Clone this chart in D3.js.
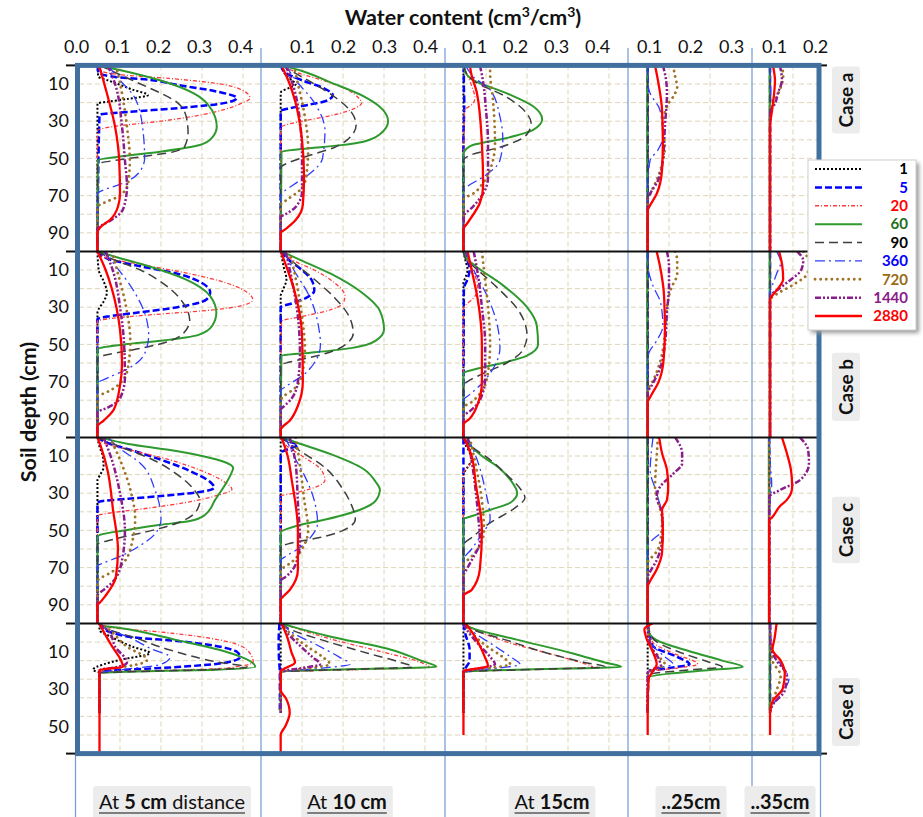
<!DOCTYPE html>
<html>
<head>
<meta charset="utf-8">
<script src="https://cdn.jsdelivr.net/npm/d3@7"></script>
<style>
  html, body { margin: 0; padding: 0; background: #fff; }
  svg { display: block; font-family: Lato, "Open Sans", sans-serif; }
</style>
</head>
<body>
<svg id="chart" width="923" height="817"></svg>
<script>
// ---------------- data ----------------
// Elapsed time of each profile (min)
const seriesNames = ["1", "5", "20", "60", "90", "360", "720", "1440", "2880"];
const caseNames = ["Case a", "Case b", "Case c", "Case d"];
// Horizontal distance from the emitter, one panel column each
const distanceLabels = [
  [["At ", false], ["5 cm", true], [" distance", false]],
  [["At ", false], ["10 cm", true]],
  [["At ", false], ["15cm", true]],
  [["..25cm", true]],
  [["..35cm", true]]
];
const depthExtent = [100, 100, 100, 70];          // soil depth shown in each row (cm)
const depthTicks = [[10, 30, 50, 70, 90], [10, 30, 50, 70, 90], [10, 30, 50, 70, 90], [10, 30, 50]];
const thetaTicks = [[0, 0.1, 0.2, 0.3, 0.4], [0.1, 0.2, 0.3, 0.4], [0.1, 0.2, 0.3, 0.4], [0.1, 0.2, 0.3], [0.1, 0.2]];

// Water-content profiles: each profile is a list of [depth (cm), water content (cm3/cm3)],
// one profile per elapsed time, in the order of seriesNames.
const caseA_5cm = [
  [[0,0.045],[6,0.047],[8,0.07],[10,0.095],[13,0.13],[16,0.168],[18,0.12],[19.5,0.07],[20.5,0.045],[100,0.045]],
  [[0,0.045],[4,0.048],[6.5,0.10],[7.5,0.16],[10.5,0.24],[14,0.335],[17.5,0.385],[20,0.36],[23,0.24],[25,0.12],[26.5,0.05],[100,0.045]],
  [[0,0.045],[3,0.055],[5,0.10],[7,0.22],[9.5,0.33],[13,0.395],[17.5,0.417],[21,0.39],[26.5,0.30],[30,0.20],[33,0.08],[35,0.045],[100,0.045]],
  [[0,0.046],[3,0.11],[8,0.197],[15,0.28],[24,0.324],[33,0.336],[39,0.324],[42.8,0.295],[46.4,0.198],[49,0.10],[51,0.046],[100,0.045]],
  [[0,0.05],[5,0.10],[10,0.15],[15,0.20],[20,0.24],[28,0.262],[36,0.266],[43.5,0.258],[46.5,0.23],[49,0.156],[51,0.09],[53,0.045],[100,0.045]],
  [[0,0.07],[4,0.085],[8,0.10],[17,0.135],[33,0.155],[50,0.16],[58,0.145],[64,0.10],[67,0.06],[69,0.045],[100,0.045]],
  [[0,0.09],[15,0.105],[33,0.117],[51,0.124],[63,0.12],[70,0.10],[74,0.06],[76,0.045],[100,0.045]],
  [[0,0.07],[10,0.088],[33,0.105],[51,0.112],[65,0.117],[77,0.108],[83,0.08],[86,0.055],[87.5,0.045],[100,0.045]],
  [[0,0.049],[15,0.068],[33,0.088],[51,0.098],[69,0.10],[76,0.095],[83,0.076],[87,0.052],[90,0.045],[100,0.045]]
];
const caseA_10cm = [
  [[0,0.05],[5,0.06],[8,0.075],[10,0.085],[12,0.07],[14,0.05],[15,0.048],[100,0.048]],
  [[0,0.048],[4,0.06],[8,0.10],[12,0.15],[16,0.175],[19,0.16],[21,0.12],[23,0.07],[24.5,0.048],[100,0.048]],
  [[0,0.05],[4,0.09],[8,0.15],[13,0.21],[18,0.24],[20,0.246],[23,0.23],[27,0.17],[30,0.10],[32,0.06],[33.5,0.048],[100,0.048]],
  [[0,0.05],[3,0.10],[9,0.168],[17,0.254],[24,0.298],[30,0.31],[37,0.29],[41,0.25],[43,0.19],[45,0.10],[46.5,0.05],[100,0.048]],
  [[0,0.05],[5,0.09],[10,0.13],[17,0.18],[25,0.22],[32,0.232],[38,0.22],[44,0.18],[49,0.11],[53,0.06],[55,0.048],[100,0.048]],
  [[0,0.06],[8,0.085],[20,0.13],[35,0.156],[50,0.15],[58,0.12],[64,0.08],[68,0.055],[70,0.048],[100,0.048]],
  [[0,0.08],[10,0.09],[25,0.105],[45,0.115],[60,0.11],[67,0.095],[72,0.065],[75,0.048],[100,0.048]],
  [[0,0.06],[12,0.08],[30,0.095],[50,0.10],[68,0.10],[76,0.085],[80,0.06],[81.5,0.048],[100,0.048]],
  [[0,0.05],[10,0.07],[19,0.083],[40,0.10],[60,0.105],[75,0.102],[83,0.085],[88,0.06],[90,0.048],[100,0.048]]
];
const caseA_15cm = [
  [[0,0.045],[100,0.045]],
  [[0,0.046],[10,0.046],[20,0.047],[30,0.046],[40,0.045],[100,0.045]],
  [[0,0.045],[3,0.05],[6,0.056],[13,0.068],[17,0.073],[20,0.07],[22,0.06],[24,0.047],[100,0.045]],
  [[0,0.046],[3.4,0.049],[7.8,0.068],[15,0.151],[22,0.215],[29,0.237],[34.7,0.215],[39,0.151],[42.8,0.068],[46,0.048],[48,0.045],[100,0.045]],
  [[0,0.046],[4,0.052],[8,0.068],[17,0.15],[26,0.20],[31,0.21],[37,0.20],[44,0.134],[48,0.065],[51,0.045],[100,0.045]],
  [[0,0.05],[3,0.058],[6,0.068],[13,0.11],[27.5,0.134],[40,0.141],[51,0.134],[60,0.093],[65,0.055],[67,0.045],[100,0.045]],
  [[0,0.11],[4,0.11],[18.6,0.117],[42,0.122],[56,0.11],[64,0.09],[69,0.068],[71,0.05],[72,0.045],[100,0.045]],
  [[0,0.085],[5,0.09],[24,0.10],[42,0.105],[60,0.105],[69,0.093],[76,0.068],[81,0.046],[100,0.045]],
  [[0,0.061],[3.4,0.063],[15,0.078],[42,0.09],[65,0.093],[74,0.085],[85,0.054],[88,0.045],[100,0.045]]
];
const caseA_25cm = [
  [[0,0.048],[100,0.048]],
  [[0,0.048],[100,0.048]],
  [[0,0.048],[100,0.048]],
  [[0,0.047],[100,0.047]],
  [[0,0.048],[100,0.048]],
  [[0,0.048],[12,0.05],[15,0.054],[24,0.078],[38.5,0.085],[45.5,0.073],[51,0.054],[58,0.05],[65,0.048],[100,0.048]],
  [[0,0.11],[6,0.115],[11.5,0.12],[15,0.115],[22,0.095],[33,0.085],[44,0.09],[51,0.085],[60,0.073],[69,0.054],[72,0.048],[100,0.048]],
  [[0,0.085],[8,0.093],[15,0.095],[33,0.09],[51,0.085],[62,0.073],[69,0.054],[72,0.048],[100,0.048]],
  [[0,0.066],[8,0.073],[24,0.083],[42,0.085],[56,0.083],[69,0.07],[76,0.052],[78,0.048],[100,0.048]]
];
const caseA_35cm = [
  [[0,0.044],[100,0.044]],
  [[0,0.044],[100,0.044]],
  [[0,0.044],[100,0.044]],
  [[0,0.043],[100,0.043]],
  [[0,0.044],[100,0.044]],
  [[0,0.044],[15,0.046],[20,0.05],[25,0.046],[30,0.044],[100,0.044]],
  [[0,0.073],[6,0.076],[13,0.068],[18.6,0.056],[22,0.047],[24,0.044],[100,0.044]],
  [[0,0.068],[8,0.073],[15,0.063],[20.6,0.056],[24,0.046],[26,0.044],[100,0.044]],
  [[0,0.051],[8,0.056],[15,0.054],[24,0.049],[33,0.044],[100,0.044]]
];

const caseB_5cm = [
  [[0,0.045],[10,0.048],[16,0.06],[22,0.068],[27,0.06],[31,0.048],[33,0.045],[100,0.045]],
  [[0,0.045],[4,0.07],[8,0.15],[12,0.24],[17,0.30],[22,0.32],[26,0.31],[30,0.24],[33,0.14],[35,0.07],[36.5,0.045],[100,0.045]],
  [[0,0.045],[3,0.06],[7,0.15],[12,0.27],[17,0.36],[22,0.41],[26,0.424],[29,0.40],[32,0.30],[34,0.18],[36,0.08],[37.5,0.045],[100,0.045]],
  [[0,0.045],[3,0.09],[8,0.17],[15,0.26],[24,0.32],[33,0.335],[40,0.325],[45,0.29],[48,0.20],[50,0.11],[52,0.05],[53,0.045],[100,0.045]],
  [[0,0.045],[4,0.08],[10,0.15],[18,0.21],[28,0.255],[37,0.27],[44,0.255],[49,0.21],[53,0.13],[56,0.06],[57.5,0.045],[100,0.045]],
  [[0,0.06],[8,0.09],[20,0.13],[33,0.16],[45,0.17],[55,0.16],[63,0.12],[68,0.07],[71,0.045],[100,0.045]],
  [[0,0.08],[12,0.095],[30,0.115],[48,0.125],[62,0.12],[71,0.10],[76,0.065],[78,0.045],[100,0.045]],
  [[0,0.065],[12,0.085],[30,0.10],[50,0.11],[68,0.112],[79,0.10],[84,0.07],[86.5,0.045],[100,0.045]],
  [[0,0.045],[10,0.065],[20,0.08],[42,0.10],[60,0.105],[72,0.10],[85,0.085],[91,0.06],[94,0.045],[100,0.045]]
];
const caseB_10cm = [
  [[0,0.048],[8,0.055],[15,0.062],[20,0.055],[24,0.048],[100,0.048]],
  [[0,0.048],[5,0.07],[10,0.10],[16,0.125],[21,0.13],[25,0.11],[28,0.075],[30,0.048],[100,0.048]],
  [[0,0.05],[5,0.08],[10,0.13],[17,0.18],[24,0.205],[28,0.20],[32,0.16],[35,0.10],[37.5,0.05],[100,0.048]],
  [[0,0.05],[4,0.09],[12,0.17],[22,0.245],[32,0.29],[42,0.30],[48,0.28],[52,0.22],[54.5,0.12],[56,0.05],[100,0.048]],
  [[0,0.05],[6,0.08],[15,0.13],[25,0.18],[35,0.215],[44,0.225],[51,0.20],[56,0.14],[59.5,0.07],[61,0.048],[100,0.048]],
  [[0,0.055],[10,0.08],[25,0.12],[40,0.14],[50,0.145],[60,0.13],[67,0.10],[72,0.065],[75,0.048],[100,0.048]],
  [[0,0.07],[15,0.085],[35,0.10],[52,0.107],[66,0.10],[74,0.08],[78,0.055],[80,0.048],[100,0.048]],
  [[0,0.06],[15,0.075],[35,0.09],[55,0.095],[70,0.09],[79,0.075],[83.5,0.055],[85,0.048],[100,0.048]],
  [[0,0.048],[10,0.065],[20,0.08],[45,0.10],[70,0.102],[83,0.09],[91,0.07],[95,0.05],[96,0.048],[100,0.048]]
];
const caseB_15cm = [
  [[0,0.045],[5,0.05],[10,0.055],[14,0.05],[17,0.045],[100,0.045]],
  [[0,0.045],[5,0.055],[10,0.06],[15,0.055],[20,0.046],[100,0.045]],
  [[0,0.045],[6,0.058],[14,0.075],[20,0.08],[25,0.07],[29,0.05],[31,0.045],[100,0.045]],
  [[0,0.045],[3,0.05],[8,0.075],[18,0.14],[30,0.20],[40,0.224],[50,0.227],[56,0.20],[60,0.14],[63,0.08],[65.5,0.045],[100,0.045]],
  [[0,0.045],[4,0.05],[10,0.08],[20,0.13],[32,0.18],[45,0.20],[53,0.19],[60,0.15],[66,0.09],[70,0.055],[72,0.045],[100,0.045]],
  [[0,0.05],[10,0.07],[25,0.105],[40,0.128],[52,0.134],[62,0.12],[71,0.09],[77,0.06],[80,0.045],[100,0.045]],
  [[0,0.09],[10,0.095],[30,0.105],[50,0.11],[65,0.105],[75,0.09],[81,0.065],[84,0.045],[100,0.045]],
  [[0,0.07],[12,0.08],[30,0.09],[50,0.098],[68,0.098],[80,0.085],[86,0.06],[88.5,0.045],[100,0.045]],
  [[0,0.055],[10,0.065],[26,0.08],[50,0.09],[70,0.09],[82,0.08],[90,0.06],[93,0.045],[100,0.045]]
];
const caseB_25cm = [
  [[0,0.048],[100,0.048]],
  [[0,0.048],[100,0.048]],
  [[0,0.048],[100,0.048]],
  [[0,0.047],[100,0.047]],
  [[0,0.048],[100,0.048]],
  [[0,0.048],[10,0.05],[18,0.06],[28,0.08],[40,0.085],[48,0.07],[54,0.052],[58,0.048],[100,0.048]],
  [[0,0.115],[5,0.12],[12,0.12],[20,0.105],[30,0.095],[45,0.09],[58,0.08],[70,0.06],[75,0.048],[100,0.048]],
  [[0,0.095],[8,0.10],[18,0.10],[33,0.095],[50,0.09],[63,0.078],[72,0.058],[76,0.048],[100,0.048]],
  [[0,0.07],[8,0.078],[24,0.088],[42,0.09],[58,0.087],[70,0.075],[78,0.055],[81,0.048],[100,0.048]]
];
const caseB_35cm = [
  [[0,0.044],[100,0.044]],
  [[0,0.044],[100,0.044]],
  [[0,0.044],[100,0.044]],
  [[0,0.043],[100,0.043]],
  [[0,0.044],[100,0.044]],
  [[0,0.06],[6,0.07],[12,0.06],[18,0.05],[22,0.044],[100,0.044]],
  [[0,0.125],[6,0.14],[12,0.135],[18,0.10],[23,0.06],[26,0.044],[100,0.044]],
  [[0,0.11],[5,0.125],[10,0.12],[16,0.09],[21,0.06],[24,0.044],[100,0.044]],
  [[0,0.066],[8,0.074],[15,0.076],[22,0.056],[26,0.044],[100,0.044]]
];

const caseC_5cm = [
  [[0,0.045],[5,0.05],[10,0.058],[16,0.06],[20,0.052],[23,0.045],[100,0.045]],
  [[0,0.045],[3,0.07],[7,0.13],[12,0.20],[18,0.27],[24,0.32],[27,0.33],[29.5,0.29],[31.5,0.20],[33,0.12],[34.5,0.05],[35.5,0.045],[100,0.045]],
  [[0,0.045],[3,0.06],[7,0.13],[12,0.22],[18,0.30],[24,0.355],[28,0.373],[31,0.34],[35,0.26],[38,0.17],[40.5,0.08],[42,0.045],[100,0.045]],
  [[0,0.05],[3.5,0.12],[6.8,0.222],[10,0.30],[13.2,0.355],[16.5,0.376],[20,0.37],[25.6,0.356],[33.6,0.332],[41.7,0.307],[45,0.27],[47,0.198],[50,0.11],[52.5,0.05],[53.5,0.045],[100,0.045]],
  [[0,0.045],[5,0.10],[12,0.18],[20,0.24],[28,0.28],[34,0.295],[40,0.285],[46,0.24],[51,0.16],[55,0.08],[57.5,0.045],[100,0.045]],
  [[0,0.07],[6,0.10],[14,0.15],[28,0.185],[44,0.20],[52,0.185],[58,0.15],[64,0.10],[67.5,0.06],[69,0.045],[100,0.045]],
  [[0,0.075],[12,0.10],[28,0.125],[44,0.137],[56,0.13],[67,0.11],[73,0.075],[76,0.05],[77,0.045],[100,0.045]],
  [[0,0.06],[12,0.08],[30,0.10],[50,0.112],[66,0.105],[77,0.085],[82,0.06],[85,0.045],[100,0.045]],
  [[0,0.045],[6,0.055],[18,0.07],[39,0.083],[60,0.095],[75,0.09],[85,0.065],[89,0.05],[90,0.045],[100,0.045]]
];
const caseC_10cm = [
  [[0,0.048],[100,0.048]],
  [[0,0.048],[2,0.065],[4,0.09],[6,0.07],[8,0.05],[10,0.048],[100,0.048]],
  [[0,0.048],[4,0.06],[10,0.10],[17,0.145],[23,0.156],[27,0.13],[30,0.08],[31.5,0.048],[100,0.048]],
  [[0,0.05],[3,0.09],[9,0.17],[17,0.25],[24,0.28],[28,0.29],[34,0.28],[39,0.24],[44,0.16],[48,0.08],[51,0.048],[100,0.048]],
  [[0,0.05],[5,0.08],[17,0.16],[28,0.20],[36,0.22],[44,0.23],[50,0.20],[54,0.14],[57,0.07],[59,0.048],[100,0.048]],
  [[0,0.06],[10,0.08],[20,0.105],[34,0.13],[46,0.138],[54,0.12],[60,0.09],[64,0.06],[66,0.048],[100,0.048]],
  [[0,0.085],[15,0.095],[33,0.105],[50,0.115],[60,0.10],[67,0.075],[70,0.055],[71,0.048],[100,0.048]],
  [[0,0.07],[15,0.085],[35,0.09],[55,0.095],[68,0.085],[75,0.06],[77,0.048],[100,0.048]],
  [[0,0.05],[10,0.065],[23,0.075],[50,0.09],[71,0.09],[82,0.07],[86,0.052],[87,0.048],[100,0.048]]
];
const caseC_15cm = [
  [[0,0.045],[4,0.05],[8,0.06],[12,0.065],[16,0.055],[20,0.045],[100,0.045]],
  [[0,0.045],[100,0.045]],
  [[0,0.045],[5,0.055],[10,0.065],[15,0.06],[19,0.045],[100,0.045]],
  [[0,0.045],[4,0.06],[10,0.09],[16,0.13],[23,0.16],[30,0.176],[35,0.16],[39,0.11],[42,0.07],[44,0.045],[100,0.045]],
  [[0,0.045],[4,0.06],[12,0.11],[20,0.15],[28,0.185],[32.5,0.195],[38,0.17],[46,0.11],[53,0.07],[58,0.045],[100,0.045]],
  [[0,0.055],[10,0.075],[28,0.098],[44,0.11],[52,0.09],[60,0.065],[66,0.045],[100,0.045]],
  [[0,0.06],[15,0.075],[34,0.09],[50,0.095],[60,0.08],[66,0.055],[68,0.045],[100,0.045]],
  [[0,0.055],[20,0.07],[40,0.08],[56,0.085],[66,0.065],[72,0.05],[74,0.045],[100,0.045]],
  [[0,0.045],[10,0.065],[25,0.075],[50,0.09],[71,0.085],[82,0.065],[85,0.045],[100,0.045]]
];
const caseC_25cm = [
  [[0,0.048],[100,0.048]],
  [[0,0.048],[100,0.048]],
  [[0,0.048],[100,0.048]],
  [[0,0.047],[100,0.047]],
  [[0,0.048],[100,0.048]],
  [[0,0.061],[10,0.056],[17.5,0.054],[30,0.07],[44.5,0.085],[50,0.083],[55,0.06],[57,0.05],[60,0.048],[100,0.048]],
  [[0,0.073],[10,0.07],[26.6,0.066],[44.5,0.083],[57,0.078],[64,0.06],[66,0.05],[68,0.048],[100,0.048]],
  [[0,0.115],[8.5,0.132],[14,0.132],[19.6,0.11],[26.6,0.078],[32,0.07],[40.5,0.083],[51,0.085],[66,0.07],[73,0.052],[75,0.048],[100,0.048]],
  [[0,0.076],[8.5,0.083],[17.5,0.095],[26.6,0.098],[33.6,0.095],[39,0.083],[50,0.085],[62,0.083],[71,0.07],[78,0.052],[80,0.048],[100,0.048]]
];
const caseC_35cm = [
  [[0,0.042],[100,0.042]],
  [[0,0.042],[100,0.042]],
  [[0,0.042],[100,0.042]],
  [[0,0.041],[100,0.041]],
  [[0,0.042],[100,0.042]],
  [[0,0.042],[15,0.045],[25,0.048],[35,0.044],[45,0.042],[100,0.042]],
  [[0,0.042],[100,0.042]],
  [[0,0.117],[6.8,0.137],[14,0.139],[23,0.117],[28.3,0.068],[32,0.042],[100,0.042]],
  [[0,0.073],[8.5,0.085],[17.5,0.095],[26.6,0.098],[33.6,0.085],[37,0.068],[43,0.049],[44.5,0.042],[100,0.042]]
];

const caseD_5cm = [
  [[0,0.05],[3.6,0.05],[7,0.076],[12.5,0.13],[16,0.173],[19.6,0.10],[22,0.06],[25,0.034],[26.6,0.05],[48,0.05]],
  [[0,0.05],[2,0.055],[7,0.117],[10,0.263],[15.3,0.385],[18,0.393],[21,0.36],[24,0.198],[25,0.11],[25.8,0.05],[48,0.05]],
  [[0,0.05],[2,0.07],[4.6,0.198],[8,0.32],[14.3,0.41],[20.7,0.425],[24,0.36],[25.5,0.156],[26,0.05],[48,0.05]],
  [[0,0.05],[1,0.052],[2.5,0.10],[9,0.239],[14.3,0.344],[23.4,0.43],[25,0.32],[26,0.117],[26.6,0.05],[48,0.05]],
  [[0,0.05],[2,0.06],[8,0.14],[14.3,0.222],[21,0.344],[23.4,0.41],[25,0.30],[26,0.12],[26.6,0.05],[48,0.05]],
  [[0,0.05],[2,0.06],[7,0.117],[14,0.18],[18,0.222],[22,0.20],[25,0.10],[26.5,0.05],[48,0.05]],
  [[0,0.05],[2,0.065],[12.5,0.117],[19.6,0.166],[23,0.12],[24.5,0.07],[26,0.05],[48,0.05]],
  [[0,0.05],[2,0.06],[5,0.075],[12.5,0.088],[21,0.117],[24,0.08],[25,0.05],[48,0.05]],
  [[0,0.05],[1,0.052],[10.7,0.076],[23.4,0.107],[25,0.05],[70,0.05]]
];
const caseD_10cm = [
  [[0,0.048],[48,0.048]],
  [[0,0.045],[10,0.043],[20,0.044],[26,0.046],[48,0.046]],
  [[0,0.05],[3,0.09],[9,0.18],[15,0.29],[21,0.39],[23.4,0.41],[24.5,0.30],[25.5,0.12],[26,0.048],[48,0.048]],
  [[0,0.05],[2,0.08],[7,0.168],[14,0.315],[20,0.39],[23.4,0.428],[24.3,0.30],[25.2,0.12],[25.8,0.048],[48,0.048]],
  [[0,0.05],[3,0.07],[9,0.15],[16,0.26],[21,0.34],[23.4,0.37],[24.5,0.25],[25.5,0.10],[26,0.048],[48,0.048]],
  [[0,0.05],[4,0.07],[12,0.14],[18,0.19],[22,0.217],[24,0.15],[25.5,0.07],[26.3,0.048],[48,0.048]],
  [[0,0.05],[4,0.065],[12,0.11],[18,0.15],[22,0.168],[24,0.12],[25.5,0.06],[26.3,0.048],[48,0.048]],
  [[0,0.05],[4,0.06],[12,0.095],[18,0.125],[22,0.144],[24,0.10],[25.5,0.055],[26.3,0.048],[48,0.048]],
  [[0,0.05],[8,0.065],[16,0.075],[21,0.083],[24,0.06],[25.5,0.048],[36,0.048],[40,0.06],[48,0.07],[55,0.06],[60,0.048],[70,0.048]]
];
const caseD_15cm = [
  [[0,0.045],[48,0.045]],
  [[0,0.045],[6,0.05],[14,0.06],[20,0.06],[24,0.05],[26,0.045],[48,0.045]],
  [[0,0.045],[4,0.08],[10,0.15],[16,0.25],[21,0.33],[23.4,0.36],[24.5,0.25],[25.5,0.10],[26,0.045],[48,0.045]],
  [[0,0.045],[2,0.06],[9,0.18],[16,0.31],[21,0.39],[23.4,0.43],[24.3,0.30],[25.2,0.12],[26,0.045],[48,0.045]],
  [[0,0.045],[3,0.065],[9,0.15],[16,0.25],[21,0.34],[23.4,0.39],[24.5,0.26],[25.5,0.10],[26,0.045],[48,0.045]],
  [[0,0.045],[4,0.065],[12,0.12],[18,0.16],[22,0.183],[24,0.13],[25.5,0.06],[26.3,0.045],[48,0.045]],
  [[0,0.045],[4,0.06],[12,0.10],[18,0.14],[22,0.159],[24,0.11],[25.5,0.055],[26.3,0.045],[48,0.045]],
  [[0,0.045],[4,0.055],[12,0.085],[18,0.11],[22,0.122],[24,0.09],[25.5,0.05],[26.3,0.045],[48,0.045]],
  [[0,0.05],[6,0.07],[12,0.085],[18,0.097],[23,0.105],[24.5,0.07],[25.5,0.045],[60,0.045]]
];
const caseD_25cm = [
  [[0,0.048],[48,0.048]],
  [[0,0.048],[12,0.06],[18,0.12],[22,0.15],[24,0.10],[26,0.05],[48,0.048]],
  [[0,0.048],[10,0.06],[16,0.11],[22,0.17],[24,0.12],[26,0.05],[48,0.048]],
  [[0,0.05],[5,0.052],[9,0.07],[15,0.15],[20,0.23],[23.4,0.28],[25,0.20],[27,0.10],[29,0.05],[48,0.048]],
  [[0,0.048],[8,0.06],[15,0.12],[21,0.20],[23.4,0.23],[25,0.15],[27,0.06],[28,0.048],[48,0.048]],
  [[0,0.048],[10,0.055],[18,0.09],[22,0.11],[24,0.07],[26,0.048],[48,0.048]],
  [[0,0.048],[12,0.055],[19,0.08],[22,0.09],[25,0.06],[26,0.048],[48,0.048]],
  [[0,0.048],[12,0.055],[19,0.075],[23,0.08],[25,0.055],[27,0.048],[48,0.048]],
  [[0,0.06],[3,0.04],[8,0.045],[15,0.06],[22,0.07],[26,0.06],[30,0.05],[45,0.048],[60,0.048]]
];
const caseD_35cm = [
  [[0,0.044],[48,0.044]],
  [[0,0.044],[48,0.044]],
  [[0,0.044],[48,0.044]],
  [[0,0.043],[48,0.043]],
  [[0,0.044],[48,0.044]],
  [[0,0.044],[15,0.05],[22,0.07],[30,0.09],[38,0.07],[45,0.048],[48,0.044]],
  [[0,0.044],[20,0.05],[28,0.07],[36,0.06],[44,0.046],[48,0.044]],
  [[0,0.044],[12,0.045],[20,0.06],[28,0.085],[36,0.08],[44,0.05],[48,0.044]],
  [[0,0.06],[8,0.055],[14,0.05],[20,0.07],[27,0.08],[35,0.075],[42,0.05],[48,0.044],[60,0.044]]
];

// rows = cases, columns = distances
const profiles = [
  [caseA_5cm, caseA_10cm, caseA_15cm, caseA_25cm, caseA_35cm],
  [caseB_5cm, caseB_10cm, caseB_15cm, caseB_25cm, caseB_35cm],
  [caseC_5cm, caseC_10cm, caseC_15cm, caseC_25cm, caseC_35cm],
  [caseD_5cm, caseD_10cm, caseD_15cm, caseD_25cm, caseD_35cm]
];

// ---------------- styles ----------------
const lineColor  = ["#000000", "#0000ff", "#ff3b3b", "#2e9a2e", "#3f3f3f", "#2f3cff", "#a07428", "#8b1c8b", "#ff0000"];
const labelColor = ["#000000", "#0000ff", "#ff0000", "#1d6e1d", "#000000", "#0000ff", "#9a6a14", "#8b1c8b", "#ff0000"];
const lineDash   = ["2,2", "7,3", "4,2,1,2", null, "9,5", "10,4,2,4", "0.1,5.5", "6,2,2,2,2,2", null];
const lineWidth  = [2, 2.5, 1.3, 2, 1.5, 1.3, 2.8, 2.5, 2.3];
const lineCap    = ["butt", "butt", "butt", "butt", "butt", "butt", "round", "butt", "butt"];

// ---------------- layout ----------------
const colLeft  = [79, 261, 445, 628, 752];
const colRight = [261, 445, 628, 752, 819];
const rowTop   = [65.4, 251.4, 437.4, 623.4];
const pxPerUnit = 410;   // px per 1.0 cm3/cm3
const pxPerCm = 1.86;    // px per cm of depth
const tickShift = [-3, 0, -12, -20, -19];
const caseLabelY = [100, 387, 530, 712];
const distanceLabelX = [172, 347, 552, 691, 780];
const frameColor = "#41709f";
const gridColor = "#dcd6b8";
const separatorColor = "#6e9bd3";

const svg = d3.select("#chart");
const defs = svg.append("defs");

const xScales = colLeft.map((l, i) =>
  d3.scaleLinear().domain([0, (colRight[i] - l) / pxPerUnit]).range([l, colRight[i]]));
const yScales = rowTop.map((t, i) =>
  d3.scaleLinear().domain([0, depthExtent[i]]).range([t, t + depthExtent[i] * pxPerCm]));

const frameLeft = 79, frameRight = 819, frameTop = rowTop[0], frameBottom = yScales[3].range()[1];

// gridlines
const grid = svg.append("g");
yScales.forEach((y, r) => {
  const ds = d3.range(10, depthExtent[r], 10);
  grid.selectAll(null).data(ds).enter().append("line")
    .attr("x1", frameLeft).attr("x2", frameRight)
    .attr("y1", d => y(d)).attr("y2", d => y(d))
    .attr("stroke", gridColor).attr("stroke-width", 1).attr("stroke-dasharray", "5,3");
});
xScales.forEach((x, c) => {
  const vs = [0.1, 0.2, 0.3, 0.4].filter(v => x(v) < colRight[c] - 3);
  grid.selectAll(null).data(vs).enter().append("line")
    .attr("x1", d => x(d)).attr("x2", d => x(d))
    .attr("y1", frameTop).attr("y2", frameBottom)
    .attr("stroke", gridColor).attr("stroke-width", 1).attr("stroke-dasharray", "5,3");
});

// profiles
const curves = svg.append("g");
profiles.forEach((row, r) => {
  row.forEach((panel, c) => {
    const id = `clip-${r}-${c}`;
    const y = yScales[r], x = xScales[c];
    defs.append("clipPath").attr("id", id).append("rect")
      .attr("x", colLeft[c]).attr("y", y.range()[0])
      .attr("width", colRight[c] - colLeft[c]).attr("height", y.range()[1] - y.range()[0]);
    const line = d3.line().x(d => x(d[1])).y(d => y(d[0])).curve(d3.curveMonotoneY);
    const g = curves.append("g").attr("clip-path", `url(#${id})`);
    panel.forEach((prof, s) => {
      g.append("path").attr("d", line(prof))
        .attr("fill", "none")
        .attr("stroke", lineColor[s])
        .attr("stroke-width", lineWidth[s])
        .attr("stroke-dasharray", lineDash[s])
        .attr("stroke-linecap", lineCap[s])
        .attr("stroke-linejoin", "round");
    });
  });
});

// column separators
const sepX = colLeft.slice(1, 5);
svg.selectAll(null).data(sepX).enter().append("line")
  .attr("x1", d => d).attr("x2", d => d).attr("y1", 48).attr("y2", 817)
  .attr("stroke", separatorColor).attr("stroke-width", 1.2);
svg.selectAll(null).data([75.5, 820.5]).enter().append("line")
  .attr("x1", d => d).attr("x2", d => d).attr("y1", frameBottom).attr("y2", 817)
  .attr("stroke", separatorColor).attr("stroke-width", 1.2);

// case boundaries
svg.selectAll(null).data(rowTop.slice(1)).enter().append("line")
  .attr("x1", 66).attr("x2", frameRight).attr("y1", d => d).attr("y2", d => d)
  .attr("stroke", "#111").attr("stroke-width", 2);
svg.selectAll(null).data([frameTop, frameBottom]).enter().append("line")
  .attr("x1", 66).attr("x2", 77).attr("y1", d => d).attr("y2", d => d)
  .attr("stroke", "#111").attr("stroke-width", 2);
svg.selectAll(null).data([frameTop, frameBottom]).enter().append("line")
  .attr("x1", 820).attr("x2", 827).attr("y1", d => d).attr("y2", d => d)
  .attr("stroke", "#111").attr("stroke-width", 2);

// frame
svg.append("rect")
  .attr("x", 77.5).attr("y", frameTop).attr("width", frameRight - 77.5).attr("height", frameBottom - frameTop)
  .attr("fill", "none").attr("stroke", frameColor).attr("stroke-width", 5);

// top axes
xScales.forEach((x, c) => {
  const ax = svg.append("g").attr("transform", "translate(0,55)")
    .call(d3.axisTop(x).tickValues(thetaTicks[c]).tickSize(0).tickPadding(2).tickFormat(d3.format(".1f")));
  ax.select(".domain").remove();
  ax.selectAll("text").attr("dx", tickShift[c]).attr("font-size", 18)
    .attr("font-family", "Lato, sans-serif").attr("fill", "#111");
});

// left axes
yScales.forEach((y, r) => {
  const ax = svg.append("g").attr("transform", "translate(77,0)")
    .call(d3.axisLeft(y).tickValues(depthTicks[r]).tickSize(0).tickPadding(8));
  ax.select(".domain").remove();
  ax.selectAll("text").attr("font-size", 18).attr("font-family", "Lato, sans-serif").attr("fill", "#111")
    .attr("transform", r === 3 ? "translate(0,10)" : null);
});

// titles
const title = svg.append("text").attr("x", 463).attr("y", 25).attr("text-anchor", "middle")
  .attr("font-size", 21.5).attr("font-weight", 700).attr("fill", "#111");
title.append("tspan").text("Water content (cm");
title.append("tspan").attr("baseline-shift", "super").attr("font-size", 14).text("3");
title.append("tspan").text("/cm");
title.append("tspan").attr("baseline-shift", "super").attr("font-size", 14).text("3");
title.append("tspan").text(")");

svg.append("text").attr("transform", "translate(36,412) rotate(-90)")
  .attr("text-anchor", "middle").attr("font-size", 21.5).attr("font-weight", 700).attr("fill", "#111")
  .text("Soil depth (cm)");

// case labels
caseNames.forEach((name, r) => {
  const g = svg.append("g").attr("transform", `translate(846,${caseLabelY[r]}) rotate(-90)`);
  const bg = g.append("rect").attr("fill", "#ececec").attr("rx", 3);
  const t = g.append("text").attr("text-anchor", "middle").attr("dy", "0.35em")
    .attr("font-size", 19).attr("font-weight", 700).attr("fill", "#111").text(name);
  const b = t.node().getBBox();
  bg.attr("x", b.x - 6).attr("y", -14).attr("width", b.width + 12).attr("height", 28);
});

// distance labels
distanceLabels.forEach((parts, c) => {
  const g = svg.append("g");
  const bg = g.append("rect").attr("fill", "#ececec").attr("rx", 3);
  const t = g.append("text").attr("x", distanceLabelX[c]).attr("y", 809).attr("text-anchor", "middle")
    .attr("font-size", 20).attr("fill", "#111");
  parts.forEach(p => t.append("tspan").attr("font-weight", p[1] ? 700 : 400).text(p[0]));
  const b = t.node().getBBox();
  bg.attr("x", b.x - 6).attr("y", 786).attr("width", b.width + 12).attr("height", 33);
  g.append("line").attr("x1", b.x).attr("x2", b.x + b.width).attr("y1", 813).attr("y2", 813)
    .attr("stroke", "#111").attr("stroke-width", 1.2);
});

// legend
const blur = defs.append("filter").attr("id", "legendShadow").attr("x", "-10%").attr("y", "-10%")
  .attr("width", "130%").attr("height", "130%");
blur.append("feGaussianBlur").attr("stdDeviation", 2);
const lg = svg.append("g").attr("transform", "translate(808,160)");
lg.append("rect").attr("x", 3).attr("y", 3).attr("width", 108).attr("height", 170)
  .attr("fill", "#9a9a9a").attr("filter", "url(#legendShadow)");
lg.append("rect").attr("width", 108).attr("height", 170).attr("fill", "#fff").attr("stroke", "#cfcfcf");
const ly = d3.scalePoint().domain(seriesNames).range([9, 156]);
seriesNames.forEach((name, s) => {
  lg.append("line").attr("x1", 7).attr("x2", 54).attr("y1", ly(name)).attr("y2", ly(name))
    .attr("stroke", lineColor[s]).attr("stroke-width", lineWidth[s])
    .attr("stroke-dasharray", lineDash[s]).attr("stroke-linecap", lineCap[s]);
  lg.append("text").attr("x", 100).attr("y", ly(name)).attr("dy", "0.35em").attr("text-anchor", "end")
    .attr("font-size", 15).attr("font-weight", 700).attr("fill", labelColor[s]).text(name);
});
</script>
</body>
</html>
